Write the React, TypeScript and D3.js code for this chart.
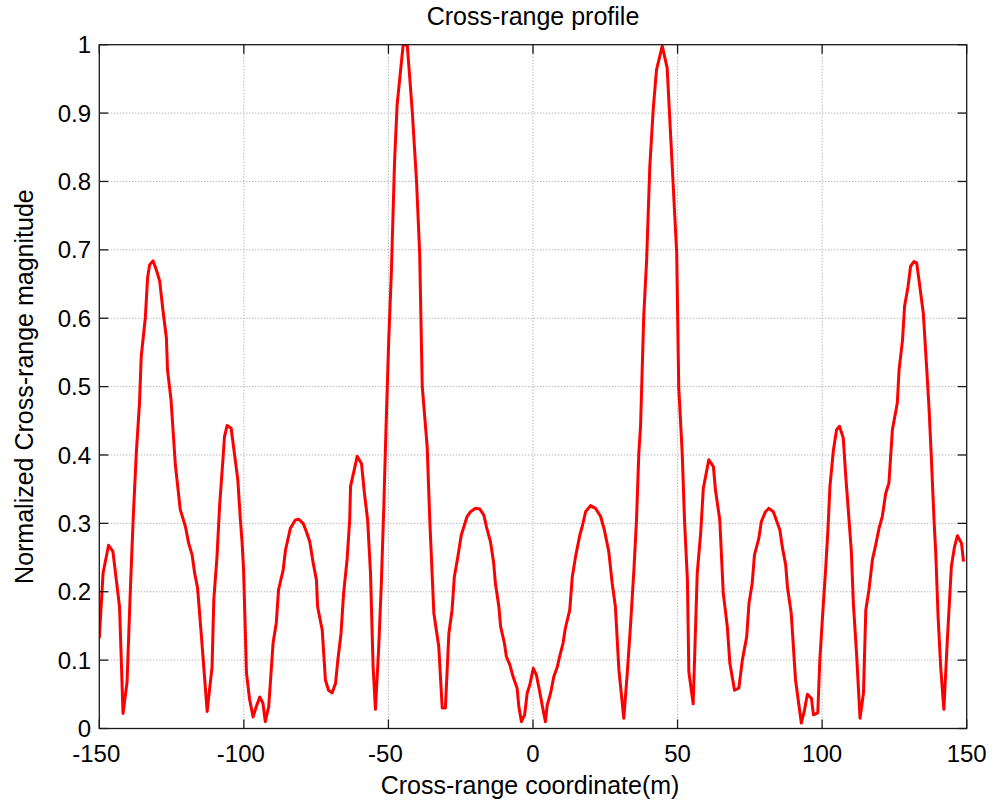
import React from "react";
import * as d3 from "d3";

// Normalized cross-range profile samples: [coordinate (m), magnitude]
const profile: [number, number][] = [
  [-150, 0.132], [-148.7, 0.227], [-146.8, 0.268], [-145.3, 0.259], [-143.0, 0.178],
  [-141.8, 0.022], [-140.4, 0.068], [-139.3, 0.198], [-138.3, 0.305], [-137.2, 0.403],
  [-136.1, 0.476], [-135.5, 0.544], [-134.1, 0.6], [-133.3, 0.659], [-132.6, 0.678],
  [-131.4, 0.684], [-130.3, 0.671], [-129.1, 0.654], [-128.0, 0.612], [-126.8, 0.571],
  [-126.4, 0.524], [-125.2, 0.481], [-123.7, 0.386], [-122.0, 0.32], [-120.2, 0.295],
  [-119.1, 0.271], [-117.9, 0.254], [-117.1, 0.229], [-116.0, 0.205], [-114.5, 0.125],
  [-112.7, 0.025], [-111.0, 0.09], [-110.4, 0.188], [-109.3, 0.251], [-108.4, 0.325],
  [-107.5, 0.378], [-106.7, 0.427], [-105.8, 0.443], [-104.4, 0.439], [-103.3, 0.403],
  [-102.1, 0.364], [-101.2, 0.305], [-100.6, 0.271], [-100.1, 0.232], [-99.1, 0.081],
  [-98.0, 0.042], [-96.8, 0.017], [-95.7, 0.032], [-94.5, 0.046], [-93.4, 0.037],
  [-92.6, 0.01], [-91.4, 0.032], [-89.9, 0.125], [-88.8, 0.154], [-88.0, 0.203],
  [-86.4, 0.232], [-85.6, 0.261], [-83.9, 0.293], [-82.2, 0.305], [-81.0, 0.306],
  [-79.5, 0.3], [-78.4, 0.288], [-77.2, 0.273], [-76.1, 0.244], [-74.9, 0.217],
  [-74.5, 0.178], [-72.9, 0.144], [-71.8, 0.071], [-70.7, 0.056], [-69.5, 0.052],
  [-68.3, 0.066], [-67.5, 0.1], [-66.4, 0.139], [-65.5, 0.198], [-64.3, 0.247],
  [-63.4, 0.305], [-63.1, 0.354], [-60.8, 0.398], [-59.3, 0.387], [-58.3, 0.344],
  [-57.2, 0.305], [-56.2, 0.227], [-55.3, 0.09], [-54.5, 0.028], [-53.4, 0.115],
  [-52.5, 0.207], [-51.6, 0.325], [-50.9, 0.43], [-49.9, 0.568], [-49.0, 0.666],
  [-47.9, 0.827], [-47.0, 0.912], [-44.9, 1.0], [-43.5, 1.0], [-41.8, 0.905],
  [-40.3, 0.802], [-39.2, 0.695], [-38.3, 0.5], [-36.6, 0.412], [-35.7, 0.305],
  [-34.3, 0.169], [-32.6, 0.12], [-31.4, 0.03], [-30.3, 0.03], [-29.1, 0.139],
  [-28.0, 0.173], [-27.2, 0.222], [-26.0, 0.251], [-24.8, 0.283], [-22.8, 0.31],
  [-21.6, 0.317], [-19.9, 0.322], [-18.4, 0.321], [-17.0, 0.312], [-16.1, 0.295],
  [-14.7, 0.273], [-13.6, 0.242], [-13.0, 0.212], [-11.8, 0.178], [-11.2, 0.149],
  [-9.9, 0.125], [-9.2, 0.105], [-8.0, 0.093], [-6.9, 0.076], [-5.5, 0.059],
  [-4.9, 0.032], [-4.0, 0.01], [-2.9, 0.02], [-2.0, 0.052], [-1.1, 0.064],
  [0.1, 0.088], [1.2, 0.078], [2.4, 0.052], [3.5, 0.027], [4.3, 0.01],
  [4.9, 0.034], [6.1, 0.052], [7.2, 0.076], [8.4, 0.09], [9.2, 0.105],
  [10.4, 0.125], [11.2, 0.147], [12.7, 0.173], [13.6, 0.222], [14.7, 0.251],
  [16.2, 0.283], [17.0, 0.295], [18.2, 0.317], [19.9, 0.326], [21.6, 0.322],
  [23.4, 0.31], [24.7, 0.29], [26.2, 0.259], [27.4, 0.212], [28.5, 0.178],
  [29.7, 0.086], [31.4, 0.015], [32.6, 0.081], [33.7, 0.149], [34.9, 0.232],
  [35.8, 0.305], [36.6, 0.403], [37.2, 0.442], [38.3, 0.603], [39.3, 0.685],
  [40.4, 0.822], [41.6, 0.907], [42.7, 0.963], [44.7, 0.998], [46.4, 0.966],
  [47.8, 0.851], [49.7, 0.695], [50.4, 0.5], [51.6, 0.403], [52.4, 0.305],
  [53.4, 0.217], [53.9, 0.083], [55.4, 0.036], [56.8, 0.227], [58.0, 0.286],
  [58.9, 0.351], [60.8, 0.393], [62.4, 0.383], [63.1, 0.349], [64.6, 0.305],
  [65.8, 0.198], [67.2, 0.149], [68.1, 0.095], [69.7, 0.056], [71.2, 0.059],
  [72.4, 0.1], [73.9, 0.134], [74.7, 0.183], [75.8, 0.212], [76.6, 0.254],
  [78.1, 0.278], [79.0, 0.303], [80.4, 0.317], [81.6, 0.322], [83.1, 0.317],
  [84.3, 0.303], [85.4, 0.29], [86.2, 0.266], [87.4, 0.239], [88.0, 0.207],
  [89.3, 0.169], [90.8, 0.071], [92.8, 0.008], [93.9, 0.027], [94.9, 0.05],
  [96.3, 0.044], [97.0, 0.02], [98.5, 0.023], [99.2, 0.1], [100.1, 0.161],
  [101.2, 0.232], [102.0, 0.29], [102.7, 0.354], [103.9, 0.407], [105.0, 0.437],
  [106.0, 0.442], [107.3, 0.425], [108.1, 0.373], [109.3, 0.305], [110.1, 0.259],
  [110.8, 0.183], [111.9, 0.11], [113.1, 0.015], [114.3, 0.052], [115.1, 0.173],
  [116.2, 0.203], [117.4, 0.247], [118.5, 0.268], [119.7, 0.293], [120.8, 0.31],
  [122.0, 0.344], [123.1, 0.359], [124.3, 0.437], [126.0, 0.476], [126.6, 0.524],
  [127.8, 0.568], [128.5, 0.617], [129.7, 0.646], [130.6, 0.676], [131.8, 0.683],
  [132.7, 0.681], [133.8, 0.646], [135.0, 0.607], [136.2, 0.524], [137.0, 0.466],
  [137.8, 0.393], [138.7, 0.305], [139.3, 0.256], [140.1, 0.164], [141.0, 0.09],
  [142.1, 0.028], [143.3, 0.129], [144.2, 0.198], [144.7, 0.237], [145.8, 0.266],
  [146.8, 0.282], [148.2, 0.271], [148.9, 0.244],
];

const xTicks = [-150, -100, -50, 0, 50, 100, 150];
const yTicks = [0, 0.1, 0.2, 0.3, 0.4, 0.5, 0.6, 0.7, 0.8, 0.9, 1];

const titleText = "Cross-range profile";
const xLabelText = "Cross-range coordinate(m)";
const yLabelText = "Normalized Cross-range magnitude";

const W = 994;
const H = 803;
const plot = { left: 99.3, right: 966.7, top: 44.7, bottom: 728.5 };
const FONT = "Arial, 'Liberation Sans', Helvetica, sans-serif";
const TICK_LEN = 9;

export default function App() {
  const x = d3.scaleLinear().domain([-150, 150]).range([plot.left, plot.right]);
  const y = d3.scaleLinear().domain([0, 1]).range([plot.bottom, plot.top]);

  const line = d3
    .line<[number, number]>()
    .x((d) => x(d[0]))
    .y((d) => y(d[1]));

  const cx = (plot.left + plot.right) / 2;
  const cy = (plot.top + plot.bottom) / 2;
  const fmt = (v: number) => (v === 0 || v === 1 ? String(v) : v.toFixed(1));

  return (
    <svg
      width={W}
      height={H}
      style={{ position: "absolute", left: 0, top: 0, background: "#fff" }}
      fontFamily={FONT}
    >
      <defs>
        <clipPath id="plot-clip">
          <rect
            x={plot.left}
            y={plot.top}
            width={plot.right - plot.left}
            height={plot.bottom - plot.top}
          />
        </clipPath>
      </defs>
      <rect x={0} y={0} width={W} height={H} fill="#fff" />

      {/* grid */}
      <g stroke="#9a9a9a" strokeWidth={1} strokeDasharray="1 2">
        {xTicks
          .filter((t) => t > -150 && t < 150)
          .map((t) => (
            <line key={`gx${t}`} x1={x(t)} x2={x(t)} y1={plot.top} y2={plot.bottom} />
          ))}
        {yTicks
          .filter((t) => t > 0 && t < 1)
          .map((t) => (
            <line key={`gy${t}`} x1={plot.left} x2={plot.right} y1={y(t)} y2={y(t)} />
          ))}
      </g>

      {/* profile curve */}
      <path
        d={line(profile) ?? ""}
        fill="none"
        stroke="#ff0000"
        strokeWidth={3}
        strokeLinejoin="round"
        clipPath="url(#plot-clip)"
      />

      {/* box and inward ticks */}
      <g stroke="#1a1a1a" strokeWidth={1.3} fill="none">
        <rect
          x={plot.left}
          y={plot.top}
          width={plot.right - plot.left}
          height={plot.bottom - plot.top}
        />
        {xTicks.map((t) => (
          <g key={`tx${t}`}>
            <line x1={x(t)} x2={x(t)} y1={plot.bottom} y2={plot.bottom - TICK_LEN} />
            <line x1={x(t)} x2={x(t)} y1={plot.top} y2={plot.top + TICK_LEN} />
          </g>
        ))}
        {yTicks.map((t) => (
          <g key={`ty${t}`}>
            <line x1={plot.left} x2={plot.left + TICK_LEN} y1={y(t)} y2={y(t)} />
            <line x1={plot.right} x2={plot.right - TICK_LEN} y1={y(t)} y2={y(t)} />
          </g>
        ))}
      </g>

      {/* tick labels */}
      <g fontSize={24} fill="#000">
        {xTicks.map((t) => (
          <text key={`lx${t}`} x={x(t) + (t < 0 ? -3 : 0)} y={762} textAnchor="middle">
            {t}
          </text>
        ))}
        {yTicks.map((t) => (
          <text key={`ly${t}`} x={91} y={y(t) + 8.6} textAnchor="end">
            {fmt(t)}
          </text>
        ))}
      </g>

      {/* titles */}
      <text x={cx} y={25} textAnchor="middle" fontSize={25} fill="#000">
        {titleText}
      </text>
      <text x={cx - 3} y={794} textAnchor="middle" fontSize={25} fill="#000">
        {xLabelText}
      </text>
      <text
        transform={`translate(33, ${cy}) rotate(-90)`}
        textAnchor="middle"
        fontSize={25}
        fill="#000"
      >
        {yLabelText}
      </text>
    </svg>
  );
}
